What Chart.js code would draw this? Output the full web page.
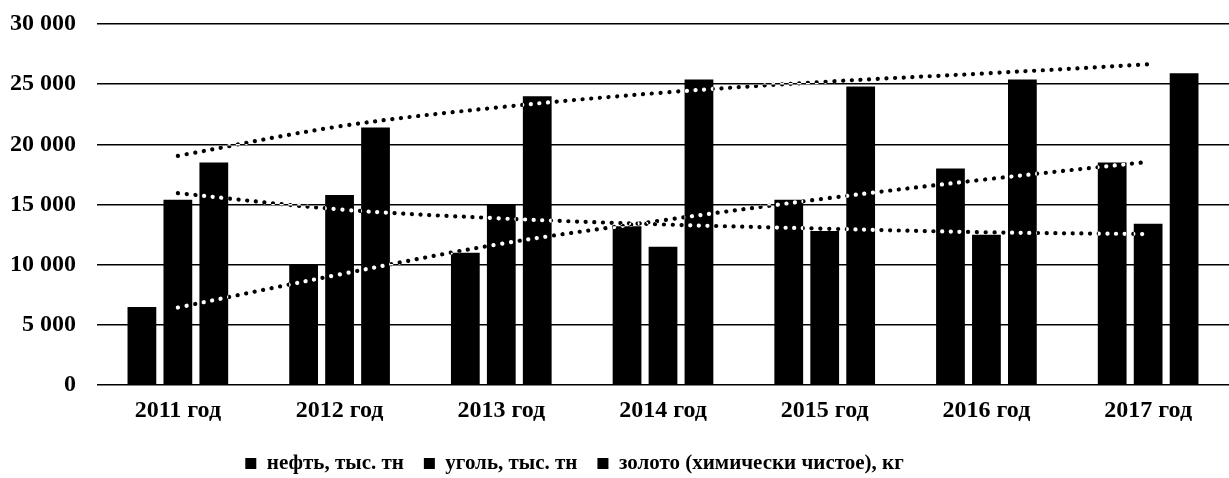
<!DOCTYPE html>
<html>
<head>
<meta charset="utf-8">
<script src="https://cdn.jsdelivr.net/npm/chart.js@4"></script>
<style>
  html, body { margin: 0; padding: 0; background: #fff; }
  #wrap { width: 1229px; height: 478px; }
</style>
</head>
<body>
<div id="wrap"><canvas id="myChart" width="1229" height="478"></canvas></div>
<script>
// данные
const years = ['2011 год', '2012 год', '2013 год', '2014 год', '2015 год', '2016 год', '2017 год'];
const neft = [6500, 10000, 11000, 13200, 15400, 18000, 18500];
const ugol = [15400, 15800, 15000, 11500, 12800, 12500, 13400];
const zoloto = [18500, 21400, 24000, 25400, 24800, 25400, 25900];

// линии тренда (тоже)
const trendNeft = [6450, 9200, 11750, 13700, 15500, 17100, 18550];
const trendUgol = [15950, 14600, 13850, 13350, 13000, 12700, 12550];
const trendZoloto = [19050, 21500, 23100, 24300, 25200, 25900, 26650];

const yTicks = [0, 5000, 10000, 15000, 20000, 25000, 30000];

const font = { family: "'Liberation Serif', 'Times New Roman', serif", weight: 'bold' };

const trendLine = (data) => ({
    type: 'line',
    data: data,
    borderColor: '#fff',
    borderWidth: 4.2,
    borderDash: [0.1, 8.6],
    borderCapStyle: 'round',
    pointRadius: 0,
    fill: false,
    tension: 0.35,
    order: 0,
    isTrend: true
});

const bar = (label, data) => ({
    type: 'bar',
    label: label,
    data: data,
    backgroundColor: '#000',
    borderWidth: 0,
    categoryPercentage: 0.667,
    barPercentage: 0.8,
    order: 1
});

// белый фон, чтобы "инверсия" точек тренда работала и на пустом месте
const whiteBg = {
    id: 'whiteBg',
    beforeDraw(chart) {
        const c = chart.ctx;
        c.save();
        c.fillStyle = '#fff';
        c.fillRect(0, 0, chart.width, chart.height);
        c.restore();
    }
};

// точки тренда поверх столбцов выглядят белыми, как на скане
const invertTrends = {
    id: 'invertTrends',
    beforeDatasetDraw(chart, args) {
        if (args.meta.type === 'line') {
            chart.ctx.save();
            chart.ctx.globalCompositeOperation = 'difference';
        }
    },
    afterDatasetDraw(chart, args) {
        if (args.meta.type === 'line') chart.ctx.restore();
    }
};

// легенда в оригинале чуть левее
const shiftLegend = {
    id: 'shiftLegend',
    afterLayout(chart) {
        const l = chart.legend;
        l.left -= 40;
        l.right -= 40;
        l.top += 5;
        l.bottom += 5;
    }
};

const ctx = document.getElementById('myChart').getContext('2d');
new Chart(ctx, {
    data: {
        labels: years,
        datasets: [
            bar('нефть, тыс. тн', neft),
            bar('уголь, тыс. тн', ugol),
            bar('золото (химически чистое), кг', zoloto),
            trendLine(trendNeft),
            trendLine(trendUgol),
            trendLine(trendZoloto)
        ]
    },
    options: {
        responsive: false,
        animation: false,
        layout: { padding: { top: 24, right: 0, left: 0, bottom: -1 } },
        plugins: {
            tooltip: { enabled: false },
            legend: {
                position: 'bottom',
                labels: {
                    color: '#000',
                    font: { ...font, size: 21 },
                    boxWidth: 11,
                    boxHeight: 11,
                    padding: 20,
                    filter: (item, data) => !data.datasets[item.datasetIndex].isTrend
                }
            }
        },
        scales: {
            x: {
                offset: true,
                grid: { display: false },
                border: { display: false },
                ticks: { color: '#000', font: { ...font, size: 24 }, padding: 3, maxRotation: 0 }
            },
            y: {
                min: 0,
                max: 30000,
                afterBuildTicks: (axis) => { axis.ticks = yTicks.map(v => ({ value: v })); },
                afterFit: (axis) => { axis.width = 97; axis.paddingTop = 0; },
                grid: { color: '#000', lineWidth: 1.5, drawTicks: false },
                border: { display: false },
                ticks: {
                    color: '#000',
                    font: { ...font, size: 24 },
                    padding: 21,
                    callback: (v) => v.toLocaleString('ru-RU').replace(/\s/g, ' ')
                }
            }
        }
    },
    plugins: [whiteBg, invertTrends, shiftLegend]
});
</script>
</body>
</html>
